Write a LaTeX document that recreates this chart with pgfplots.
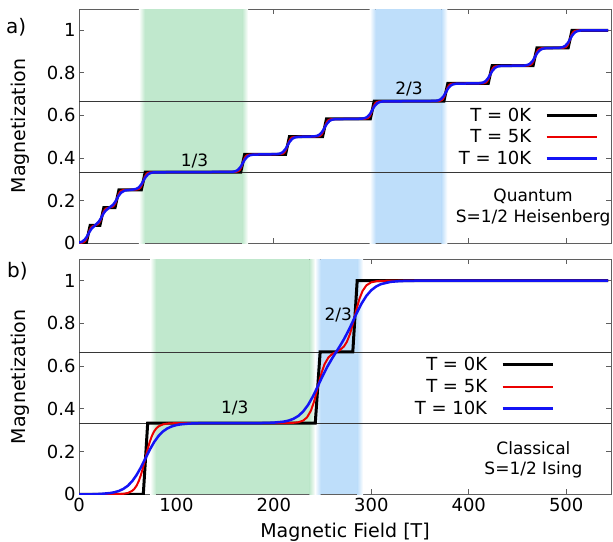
\documentclass[border=0pt]{standalone}
\usepackage{fontspec}
\setmainfont{DejaVu Sans}
\usepackage{pgfplots}
\pgfplotsset{compat=1.18}
\definecolor{bgreen}{RGB}{192,232,205}
\definecolor{bblue}{RGB}{190,222,250}
\definecolor{axgray}{RGB}{95,95,95}
\definecolor{hgray}{RGB}{55,55,55}
\definecolor{myred}{RGB}{235,0,0}
\definecolor{myblue}{RGB}{20,20,245}
\newcommand{\fs}[2]{\fontsize{#1}{#2}\selectfont}
\pgfplotsset{
 mystyle/.style={
  width=532pt, scale only axis,
  xmin=0, xmax=546, ymin=0, ymax=1.1,
  axis line style={axgray, line width=0.8pt},
  every tick/.style={axgray, line width=0.8pt},
  major tick length=5pt,
  xtick={0,100,200,300,400,500},
  ytick={0,0.2,0.4,0.6,0.8,1},
  yticklabels={0,0.2,0.4,0.6,0.8,1},
  tick align=inside, tick pos=both,
  ticklabel style={font=\fs{18}{21}},
  /pgf/number format/assume math mode=true,
  ylabel={Magnetization},
  ylabel style={font=\fs{19}{22}, at={(axis description cs:-0.111,0.5)}, anchor=center},
  legend style={draw=none, fill=none, font=\fs{18}{21}, cells={anchor=east}, row sep=3pt,
    /tikz/every odd column/.append style={column sep=12pt}},
  legend plot pos=right,
  legend image code/.code={\draw[##1] (0pt,0pt) -- (50pt,0pt);},
 },
 band/.style={draw=none, forget plot, fill=#1},
}
\begin{document}
\begin{tikzpicture}
% ---------------- a) Quantum ----------------
\begin{axis}[mystyle, at={(79pt,-243pt)}, anchor=south west, height=234pt,
  xticklabels={},
  legend style={at={(0.982,0.453)}, anchor=east}]
\addplot[band=bgreen] coordinates {(67.5,1.1) (167.5,1.1)} \closedcycle;
\addplot[draw=none, forget plot, left color=white, right color=bgreen] coordinates {(61.5,1.1) (67.5,1.1)} \closedcycle;
\addplot[draw=none, forget plot, left color=bgreen, right color=white] coordinates {(167.5,1.1) (173.5,1.1)} \closedcycle;
\addplot[band=bblue] coordinates {(304.4,1.1) (372,1.1)} \closedcycle;
\addplot[draw=none, forget plot, left color=white, right color=bblue] coordinates {(298.4,1.1) (304.4,1.1)} \closedcycle;
\addplot[draw=none, forget plot, left color=bblue, right color=white] coordinates {(372,1.1) (378,1.1)} \closedcycle;
\addplot[forget plot, hgray, line width=0.7pt] coordinates {(0,0.3333) (546,0.3333)};
\addplot[forget plot, hgray, line width=0.7pt] coordinates {(0,0.6667) (546,0.6667)};
\addplot[black, line width=3pt] coordinates {(0,0) (7.5,0) (11.5,0.0833) (21.5,0.0833) (25.5,0.1667) (37,0.1667) (41,0.25) (64,0.25) (68,0.3333) (166,0.3333) (170,0.4167) (212,0.4167) (216,0.5) (250,0.5) (254,0.5833) (299,0.5833) (303,0.6667) (374.5,0.6667) (378.5,0.75) (420,0.75) (424,0.8333) (466,0.8333) (470,0.9167) (502,0.9167) (506,1) (543,1)};
\addlegendentry{T = 0K}
\addplot[myred, line width=2pt] coordinates {(0,0)
(2.5,0.0008) (5,0.0040) (6.5,0.0099) (8,0.0224) (8.75,0.0315) (9.5,0.0417) (10.25,0.0519) (11,0.0609) (12.5,0.0734) (14,0.0794) (16.5,0.0825)
(19,0.0873) (20.5,0.0932) (22,0.1057) (22.75,0.1148) (23.5,0.1250) (24.25,0.1352) (25,0.1442) (26.5,0.1567) (28,0.1627) (30.5,0.1658)
(32,0.1675) (34.5,0.1707) (36,0.1766) (37.5,0.1891) (38.25,0.1982) (39,0.2084) (39.75,0.2186) (40.5,0.2276) (42,0.2401) (43.5,0.2461) (46,0.2492)
(59,0.2508) (61.5,0.2540) (63,0.2599) (64.5,0.2724) (65.25,0.2815) (66,0.2917) (66.75,0.3019) (67.5,0.3109) (69,0.3234) (70.5,0.3294) (73,0.3325)
(161,0.3341) (163.5,0.3373) (165,0.3432) (166.5,0.3557) (167.25,0.3648) (168,0.3750) (168.75,0.3852) (169.5,0.3942) (171,0.4067) (172.5,0.4127) (175,0.4158)
(207,0.4175) (209.5,0.4207) (211,0.4266) (212.5,0.4391) (213.25,0.4482) (214,0.4584) (214.75,0.4686) (215.5,0.4776) (217,0.4901) (218.5,0.4961) (221,0.4992)
(245,0.5008) (247.5,0.5040) (249,0.5099) (250.5,0.5224) (251.25,0.5315) (252,0.5417) (252.75,0.5519) (253.5,0.5609) (255,0.5734) (256.5,0.5794) (259,0.5825)
(294,0.5841) (296.5,0.5873) (298,0.5932) (299.5,0.6057) (300.25,0.6148) (301,0.6250) (301.75,0.6352) (302.5,0.6442) (304,0.6567) (305.5,0.6627) (308,0.6658)
(369.5,0.6675) (372,0.6707) (373.5,0.6766) (375,0.6891) (375.75,0.6982) (376.5,0.7084) (377.25,0.7186) (378,0.7276) (379.5,0.7401) (381,0.7461) (383.5,0.7492)
(415,0.7508) (417.5,0.7540) (419,0.7599) (420.5,0.7724) (421.25,0.7815) (422,0.7917) (422.75,0.8019) (423.5,0.8109) (425,0.8234) (426.5,0.8294) (429,0.8325)
(461,0.8341) (463.5,0.8373) (465,0.8432) (466.5,0.8557) (467.25,0.8648) (468,0.8750) (468.75,0.8852) (469.5,0.8942) (471,0.9067) (472.5,0.9127) (475,0.9158)
(497,0.9175) (499.5,0.9207) (501,0.9266) (502.5,0.9391) (503.25,0.9482) (504,0.9584) (504.75,0.9686) (505.5,0.9776) (507,0.9901) (508.5,0.9961) (511,0.9992)
(543,1)};
\addlegendentry{T = 5K}
\addplot[myblue, line width=2.5pt] coordinates {(0,0.0018) (3,0.0058) (6,0.0165) (8,0.0295) (9.5,0.0420) (11,0.0544) (13,0.0681) (16.5,0.0833) (20,0.0986) (22,0.1123) (23.5,0.1249) (25,0.1373) (27,0.1508) (31,0.1660) (35,0.1798) (37.5,0.1959) (39,0.2083) (40.5,0.2205) (43,0.2360) (47,0.2467) (52,0.2495)
(55,0.2510) (58.5,0.2540) (61,0.2599) (63.5,0.2724) (64.75,0.2815) (66,0.2917) (67.25,0.3019) (68.5,0.3109) (71,0.3234) (73.5,0.3294) (77,0.3323)
(157,0.3343) (160.5,0.3373) (163,0.3432) (165.5,0.3557) (166.75,0.3648) (168,0.3750) (169.25,0.3852) (170.5,0.3942) (173,0.4067) (175.5,0.4127) (179,0.4156)
(203,0.4177) (206.5,0.4207) (209,0.4266) (211.5,0.4391) (212.75,0.4482) (214,0.4584) (215.25,0.4686) (216.5,0.4776) (219,0.4901) (221.5,0.4961) (225,0.4990)
(241,0.5010) (244.5,0.5040) (247,0.5099) (249.5,0.5224) (250.75,0.5315) (252,0.5417) (253.25,0.5519) (254.5,0.5609) (257,0.5734) (259.5,0.5794) (263,0.5823)
(290,0.5843) (293.5,0.5873) (296,0.5932) (298.5,0.6057) (299.75,0.6148) (301,0.6250) (302.25,0.6352) (303.5,0.6442) (306,0.6567) (308.5,0.6627) (312,0.6656)
(365.5,0.6677) (369,0.6707) (371.5,0.6766) (374,0.6891) (375.25,0.6982) (376.5,0.7084) (377.75,0.7186) (379,0.7276) (381.5,0.7401) (384,0.7461) (387.5,0.7490)
(411,0.7510) (414.5,0.7540) (417,0.7599) (419.5,0.7724) (420.75,0.7815) (422,0.7917) (423.25,0.8019) (424.5,0.8109) (427,0.8234) (429.5,0.8294) (433,0.8323)
(457,0.8343) (460.5,0.8373) (463,0.8432) (465.5,0.8557) (466.75,0.8648) (468,0.8750) (469.25,0.8852) (470.5,0.8942) (473,0.9067) (475.5,0.9127) (479,0.9156)
(493,0.9177) (496.5,0.9207) (499,0.9266) (501.5,0.9391) (502.75,0.9482) (504,0.9584) (505.25,0.9686) (506.5,0.9776) (509,0.9901) (511.5,0.9961) (515,0.9990)
(543,1)};
\addlegendentry{T = 10K}
\node[font=\fs{17}{20}] at (axis cs:118.6,0.386) {1/3};
\node[font=\fs{17}{20}] at (axis cs:338.8,0.722) {2/3};
\node[font=\fs{17}{20.5}, align=center] at (axis cs:466,0.166) {Quantum\\S=1/2 Heisenberg};
\end{axis}
% ---------------- b) Classical ----------------
\begin{axis}[mystyle, at={(79pt,-494.3pt)}, anchor=south west, height=235pt,
  xlabel={Magnetic Field [T]},
  xlabel style={font=\fs{19}{22}, at={(axis description cs:0.5,-0.182)}, anchor=base},
  legend style={at={(0.899,0.458)}, anchor=east}]
\addplot[band=bgreen] coordinates {(79,1.1) (236.5,1.1)} \closedcycle;
\addplot[draw=none, forget plot, left color=white, right color=bgreen] coordinates {(73,1.1) (79,1.1)} \closedcycle;
\addplot[draw=none, forget plot, left color=bgreen, right color=white] coordinates {(236.5,1.1) (242.5,1.1)} \closedcycle;
\addplot[band=bblue] coordinates {(248,1.1) (285.5,1.1)} \closedcycle;
\addplot[draw=none, forget plot, left color=white, right color=bblue] coordinates {(242,1.1) (248,1.1)} \closedcycle;
\addplot[draw=none, forget plot, left color=bblue, right color=white] coordinates {(285.5,1.1) (291.5,1.1)} \closedcycle;
\addplot[forget plot, hgray, line width=0.7pt] coordinates {(0,0.3333) (546,0.3333)};
\addplot[forget plot, hgray, line width=0.7pt] coordinates {(0,0.6667) (546,0.6667)};
\addplot[black, line width=3pt] coordinates {(0,0) (66,0) (70.5,0.3333) (242.5,0.3333) (247.5,0.6667) (281,0.6667) (285.5,1) (543,1)};
\addlegendentry{T = 0K}
\addplot[myred, line width=2pt] coordinates {(0,0) (40,0.0005) (45.5,0.0022) (50,0.0060) (54.5,0.0158) (56.75,0.0253) (59,0.0397) (61.25,0.0608) (63.5,0.0896) (65.75,0.1258) (68,0.1667) (70.25,0.2075) (72.5,0.2437) (74.75,0.2725) (77,0.2936) (79.25,0.3080) (81.5,0.3175) (86,0.3273) (90.5,0.3311) (95,0.3325) (105,0.3333)
(215,0.3337) (220,0.3346) (225,0.3372) (230,0.3448) (234,0.3600) (238,0.3914) (241,0.4304) (243,0.4636) (245,0.5001) (247,0.5364) (249,0.5696) (252,0.6090) (256,0.6409) (260,0.6572) (264,0.6667) (268,0.6762) (272,0.6925) (275,0.7144) (278,0.7490) (281,0.7968) (283,0.8332) (285,0.8696) (288,0.9174) (291,0.9518) (295,0.9783) (300,0.9925) (306,0.9980) (315,0.9997) (543,1)};
\addlegendentry{T = 5K}
\addplot[myblue, line width=2.5pt] coordinates {(0,0) (15,0.0003) (23,0.0022) (32,0.0060) (36.5,0.0098) (41,0.0158) (45.5,0.0253) (50,0.0397) (54.5,0.0608) (59,0.0896) (63.5,0.1258) (68,0.1667) (72.5,0.2075) (77,0.2437) (81.5,0.2725) (86,0.2936) (90.5,0.3080) (95,0.3175) (99.5,0.3236) (104,0.3273) (113,0.3311) (122,0.3326) (140,0.3333)
(190,0.3338) (200,0.3356) (210,0.3401) (215,0.3450) (220,0.3531) (225,0.3665) (230,0.3872) (235,0.4175) (240,0.4576) (245,0.5048) (250,0.5535) (255,0.5983) (260,0.6377) (264,0.6667) (268,0.6956) (272,0.7267) (276,0.7613) (280,0.7992) (283,0.8285) (286,0.8574) (290,0.8928) (295,0.9292) (300,0.9555) (305,0.9729) (310,0.9840) (320,0.9946) (330,0.9982) (345,0.9997) (543,1)};
\addlegendentry{T = 10K}
\node[font=\fs{17}{20}] at (axis cs:159.8,0.403) {1/3};
\node[font=\fs{17}{20}] at (axis cs:266,0.839) {2/3};
\node[font=\fs{17}{20.5}, align=center] at (axis cs:466.4,0.162) {Classical\\S=1/2 Ising};
\end{axis}
\node[font=\fs{20}{24}, anchor=base west, inner sep=0pt] at (6pt,-33pt) {a)};
\node[font=\fs{20}{24}, anchor=base west, inner sep=0pt] at (7pt,-277.5pt) {b)};
\pgfresetboundingbox
\path[use as bounding box] (0pt,0pt) rectangle (613pt,-541pt);
\end{tikzpicture}
\end{document}
